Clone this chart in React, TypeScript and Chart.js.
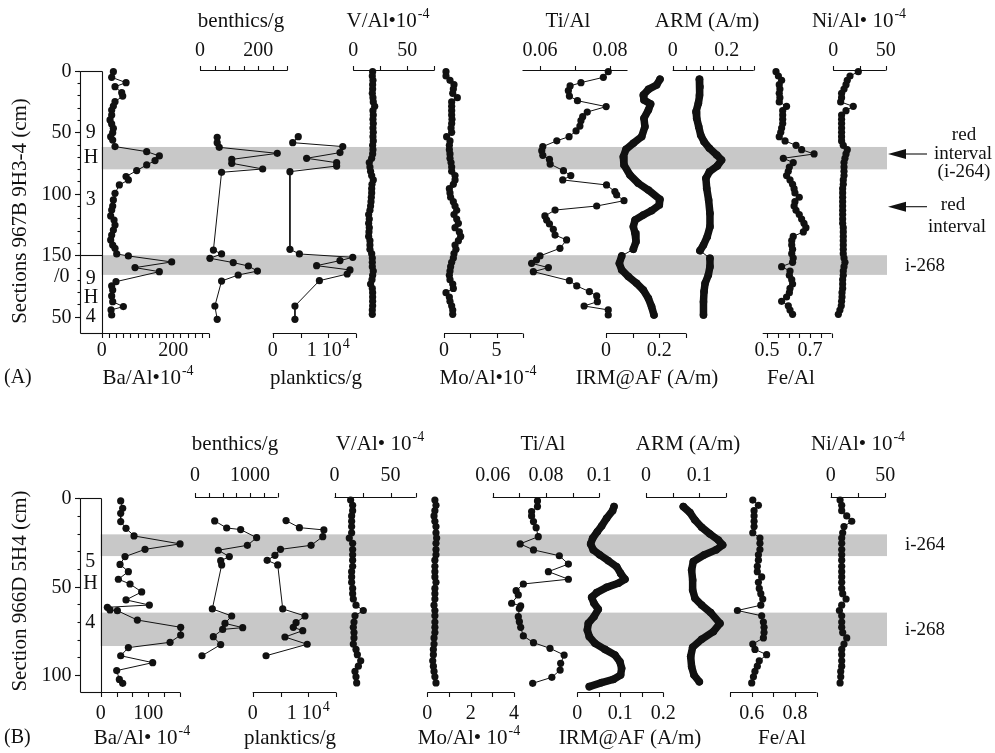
import React, { useEffect, useRef } from 'react';
import { Chart, registerables } from 'chart.js';
Chart.register(...registerables);

const W = 995;
const H = 753;
const SERIF = '"Liberation Serif", "Times New Roman", Times, serif';
const INK = '#111';
const BAND = '#c8c8c8';

// ================= Panel A : Sections 967B 9H3-4 (depth, cm) =================
const bandsA = [[62, 80.2], [150, 166]];

const baDepthA = [0.8, 5.4, 9.7, 13, 17.9, 20.6, 25.2, 28.7, 32, 36, 40, 43.3, 46.8, 50.4, 53.6, 56.4, 61.7, 65.8, 69.3, 73.1, 76.6, 81.2, 86.1, 88.8, 92.9, 99.7, 105.1, 110, 113.3, 118.1, 121.4, 125.5, 129.5, 133.6, 137.6, 141.7, 144.4, 149, 150.6, 155.5, 160.1, 163.4, 171.5, 175, 178.3, 183.1, 187.8, 191.8, 194.5, 198.6];
const baA = [32.6, 27.9, 68, 37.2, 55.9, 58.7, 37.2, 32.6, 27.9, 27.9, 23.3, 27.9, 32.6, 30.7, 25.1, 30.7, 37.2, 125.7, 161, 149, 125.7, 97.8, 68, 74.5, 49.3, 37.2, 32.6, 30.7, 27.9, 25.1, 34.5, 37.2, 32.6, 27.9, 25.1, 30.7, 37.2, 41.9, 74.5, 195.5, 93.1, 161, 40, 27.9, 30.7, 27.9, 30.7, 60.5, 26.1, 27.9];

const benDepthA = [54.2, 58.5, 62.3, 67.2, 72.1, 75.3, 79.9, 82.6, 145.8, 149, 152.5, 156, 158.8, 162.9, 166.1, 171, 191.3, 202.1];
const benA = [59, 59, 66, 265, 109, 109, 215, 74, 46, 74, 34, 114, 166, 197, 131, 74, 51, 59];

const plkDepthA = [53.6, 58.5, 61.7, 66.6, 71.2, 74.8, 77.5, 82.1, 145.2, 149, 151.7, 154.4, 158.5, 162, 165.3, 170.7, 191.3, 202.1];
const plkA = [4600, 3600, 12600, 12100, 6100, 11500, 11500, 3100, 3100, 4800, 14400, 12100, 7900, 13900, 13400, 8400, 4000, 4000];

const geoDepthA = [0.8, 4.3, 7.8, 11.4, 14.9, 18.4, 21.9, 25.4, 29, 32.5, 36, 39.5, 43, 46.6, 50.1, 53.6, 57.1, 60.7, 64.2, 67.7, 71.2, 74.7, 78.3, 81.8, 85.3, 88.8, 92.4, 95.9, 99.4, 102.9, 106.5, 110, 113.5, 117, 120.6, 124.1, 127.6, 131.1, 134.7, 138.2, 141.7, 145.2, 148.8, 152.3, 155.8, 159.3, 162.9, 166.4, 169.9, 173.4, 177, 180.5, 184, 187.5, 191.1, 194.6, 198.1];
const vA = [17.9, 17.6, 18.2, 17.9, 17.9, 17.6, 18.2, 18.5, 19.8, 18.2, 18.5, 18.2, 18.5, 18.2, 18.5, 18.2, 18.5, 17.9, 18.2, 17.9, 17, 14.8, 15.4, 16, 17, 18.5, 17.3, 17, 17, 16.7, 16.4, 16, 15.4, 14.2, 14.8, 14.2, 14.8, 14.5, 14.2, 15.4, 15.4, 15.4, 17, 17.6, 17.6, 17.6, 18.5, 17.9, 17.3, 16, 17.6, 17.9, 17.9, 17.9, 17.9, 17.6, 17.6];
const moA = [0.19, 0.19, 0.57, 0.95, 0.89, 0.83, 1.27, 0.73, 0.73, 0.73, 0.73, 0.76, 0.73, 0.67, 0.73, 0.25, 0.57, 0.51, 0.51, 0.57, 0.57, 0.67, 0.73, 0.73, 1.05, 1.05, 0.89, 0.51, 0.57, 0.63, 0.89, 1.05, 1.21, 0.95, 1.21, 1.37, 1.05, 1.46, 1.59, 1.37, 1.05, 1.14, 0.95, 0.89, 0.73, 0.63, 0.57, 0.51, 0.57, 0.83, 0.89, 0.19, 0.51, 0.57, 0.73, 0.83, 0.83];
const feA = [0.542, 0.553, 0.568, 0.557, 0.56, 0.557, 0.56, 0.557, 0.591, 0.573, 0.573, 0.573, 0.573, 0.568, 0.564, 0.557, 0.584, 0.635, 0.661, 0.719, 0.576, 0.622, 0.604, 0.599, 0.591, 0.607, 0.619, 0.626, 0.63, 0.65, 0.63, 0.626, 0.635, 0.65, 0.661, 0.672, 0.681, 0.669, 0.622, 0.615, 0.615, 0.619, 0.615, 0.622, 0.619, 0.568, 0.607, 0.604, 0.615, 0.619, 0.607, 0.604, 0.591, 0.568, 0.599, 0.607, 0.619];
const niA = [23.8, 15.9, 13.3, 12.1, 10.2, 7.9, 7.9, 7, 19, 12.1, 7.9, 7.9, 7.9, 7.9, 7.9, 7.9, 7.9, 9.5, 13.3, 12.1, 11.1, 10.2, 10.2, 10.2, 10.2, 9.5, 9.5, 8.9, 8.9, 8.9, 8.9, 8.9, 8.9, 8.9, 8.9, 8.9, 9.5, 9.5, 9.5, 9.5, 9.5, 9.5, 9.5, 10.2, 11.1, 10.2, 9.5, 9.5, 8.9, 8.9, 8.9, 8.3, 8.3, 7.9, 7.6, 6.3, 4.8];

const tiDepthA = [0.8, 5.4, 9.7, 12.4, 16.2, 20.6, 24.4, 29.2, 33.6, 37.4, 40.6, 45, 49, 53.6, 57, 61.7, 65, 68.8, 72.1, 75.9, 81.3, 85.3, 88.8, 92.9, 98.3, 101, 105.7, 110, 113.3, 118.1, 121.4, 124.6, 129, 133.6, 137.6, 144.4, 150.6, 153.9, 156.6, 160.1, 163.4, 170.7, 175, 179.6, 183.1, 187.8, 191.3, 194.5, 198.6];
const tiA = [0.0795, 0.0781, 0.0717, 0.0686, 0.0681, 0.0684, 0.0707, 0.0789, 0.0735, 0.0722, 0.0717, 0.0714, 0.0703, 0.0683, 0.0648, 0.0608, 0.0605, 0.0608, 0.0627, 0.0629, 0.0667, 0.0688, 0.0665, 0.079, 0.0814, 0.0819, 0.084, 0.0762, 0.0643, 0.0614, 0.0619, 0.0627, 0.0638, 0.0643, 0.0676, 0.0657, 0.06, 0.059, 0.0576, 0.0624, 0.0581, 0.0684, 0.0705, 0.0741, 0.0762, 0.0764, 0.0726, 0.0795, 0.0795];

const irmDepthA = [7, 11.6, 15.2, 19.8, 23.8, 27.1, 32, 38.7, 45.5, 53.6, 59, 63.9, 69.9, 76.6, 84.8, 91.5, 97, 104.6, 109.2, 113.8, 117.3, 121.4, 126.8, 132.2, 139, 145.2, 150.6, 156.6, 162, 167.4, 172.9, 178.3, 185.1, 191.8, 198.6];
const irmA = [0.2025, 0.19, 0.159, 0.14, 0.1425, 0.1675, 0.159, 0.1425, 0.146, 0.134, 0.1025, 0.075, 0.065, 0.0675, 0.09, 0.121, 0.159, 0.2025, 0.2, 0.171, 0.14, 0.109, 0.1025, 0.109, 0.1125, 0.1025, 0.059, 0.05, 0.059, 0.084, 0.115, 0.14, 0.159, 0.171, 0.18];
const irmBreakA = 25;

const armDepthA = [7, 13, 19.8, 26.5, 33.3, 38.7, 45.5, 52.3, 57.7, 63.1, 68.5, 72.6, 77.5, 82.1, 87.5, 95.6, 105.1, 115.9, 126.8, 134.9, 141.7, 146.3, 152.5, 159.3, 166.1, 172.9, 179.6, 187.8, 198.6];
const armA = [0.0988, 0.101, 0.0988, 0.095, 0.0864, 0.0889, 0.0963, 0.1037, 0.116, 0.136, 0.163, 0.181, 0.165, 0.136, 0.123, 0.126, 0.133, 0.138, 0.138, 0.128, 0.114, 0.101, 0.138, 0.138, 0.132, 0.12, 0.116, 0.114, 0.114];
const armBreakA = 21;

// ================= Panel B : Section 966D 5H4 (depth, cm) =================
const bandsB = [[20.4, 32.7], [64.7, 83.6]];

const baDepthB = [1.5, 5.7, 8.5, 13.2, 17, 21.3, 25.8, 28.9, 33, 37.4, 41.5, 45.8, 48.5, 53, 57.5, 60.4, 61.7, 63.2, 63.6, 68.9, 73, 77.4, 81.5, 84.5, 89.1, 93, 97.5, 102.5, 104.7];
const baB = [42, 46.2, 42, 42, 53.2, 70, 166.7, 93.1, 51.1, 40.6, 58.1, 37.1, 61.6, 86.1, 53.2, 102.2, 14, 19.6, 35, 77, 168, 168, 145.7, 58.1, 42, 109.2, 33.6, 39.2, 46.2];

const benDepthB = [12.8, 16.8, 17.7, 22.3, 26.6, 29.4, 33, 35.3, 37.7, 62.6, 66.6, 70.8, 73.2, 74.2, 78.3, 82.8, 89.1];
const benB = [358, 576, 830, 1121, 952, 424, 624, 467, 485, 315, 667, 545, 867, 503, 333, 467, 127];

const plkDepthB = [12.6, 16.6, 17.9, 21.7, 26.6, 28.9, 32.3, 35.1, 37.7, 62.6, 66.6, 70.4, 73, 74.9, 78.5, 82.6, 89.1];
const plkB = [6000, 8400, 12800, 12600, 10500, 5000, 4000, 2600, 4500, 5400, 9400, 7800, 7300, 9000, 5800, 9800, 2400];

const geoDepthB = [1, 4, 7, 10, 13, 16, 19.5, 22.5, 25.5, 29, 32, 35, 38.5, 41.5, 44.5, 47.5, 51, 54, 57, 60.5, 63.5, 66.5, 70, 73, 76, 79, 82.5, 85.5, 88.5, 92, 95, 98, 101, 104.5];
const vB = [14.4, 16.2, 16.2, 15.3, 15.3, 15.3, 15.3, 13.2, 16.2, 16.2, 16.2, 16.2, 16.2, 15.3, 15.3, 15.3, 16.2, 16.2, 16.8, 19.2, 25.7, 18.3, 17.4, 16.8, 17.4, 17.4, 16.8, 19.2, 20.4, 23.4, 21.3, 18.3, 19.2, 19.8];
const moB = [0.35, 0.4, 0.35, 0.31, 0.35, 0.4, 0.4, 0.43, 0.4, 0.4, 0.4, 0.35, 0.35, 0.35, 0.35, 0.4, 0.35, 0.35, 0.35, 0.31, 0.35, 0.35, 0.35, 0.35, 0.35, 0.31, 0.31, 0.28, 0.28, 0.25, 0.28, 0.31, 0.35, 0.4];
const feB = [0.605, 0.631, 0.611, 0.611, 0.611, 0.611, 0.605, 0.638, 0.638, 0.638, 0.631, 0.631, 0.626, 0.626, 0.646, 0.631, 0.635, 0.642, 0.651, 0.642, 0.534, 0.646, 0.654, 0.657, 0.657, 0.654, 0.605, 0.615, 0.669, 0.635, 0.626, 0.615, 0.608, 0.6];
const niB = [8.6, 10.1, 10.1, 14.7, 19.3, 12.2, 11, 10.1, 10.1, 10.1, 10.1, 10.1, 10.1, 10.1, 10.1, 10.1, 10.1, 11, 14.1, 10.1, 8, 10.1, 10.1, 10.1, 11, 14.7, 12.2, 10.1, 10.1, 10.1, 10.1, 9.2, 9.2, 8.6];

const tiDepthB = [1.5, 4.7, 7.5, 10, 13.2, 16.6, 21.7, 25.8, 29.2, 32.5, 37.2, 41.5, 45.8, 48.5, 52.3, 54.7, 59.4, 60.9, 62.3, 67, 69.8, 73, 77.9, 81.7, 84.9, 88.7, 93.4, 97.2, 101.3, 104.7];
const tiB = [0.0768, 0.0768, 0.0746, 0.0746, 0.0753, 0.0763, 0.0771, 0.0703, 0.0753, 0.085, 0.0884, 0.0809, 0.0884, 0.0715, 0.0688, 0.0696, 0.0671, 0.0705, 0.07, 0.0696, 0.07, 0.0705, 0.0715, 0.0753, 0.0815, 0.0868, 0.0855, 0.0853, 0.0822, 0.075];

const irmDepthB = [4.7, 7, 11.3, 15.7, 18.9, 22.6, 25.8, 29.2, 32.1, 35.3, 38.7, 42.5, 45.8, 48.1, 50.4, 53.4, 56, 59.4, 62.8, 67, 70.8, 74.5, 78.3, 82.1, 85.5, 88.7, 92.5, 96.2, 100, 102.5, 104.3, 106.6];
const irmB = [0.0853, 0.0822, 0.0682, 0.0566, 0.0465, 0.0357, 0.031, 0.0372, 0.0527, 0.0721, 0.0915, 0.1008, 0.1109, 0.0953, 0.0682, 0.045, 0.0333, 0.0388, 0.0488, 0.0388, 0.0256, 0.0233, 0.0279, 0.0411, 0.0643, 0.0876, 0.0992, 0.1031, 0.1008, 0.0837, 0.0566, 0.0279];

const armDepthB = [4.7, 8.1, 12.3, 16.4, 20.2, 23.6, 26.4, 29.2, 32.1, 35.8, 40.6, 46.2, 51.9, 56.6, 60.4, 64.7, 70.8, 75.5, 79.8, 84.3, 89.6, 95.3, 100, 103.8];
const armB = [0.07, 0.0825, 0.0919, 0.1044, 0.12, 0.1356, 0.1438, 0.1313, 0.1088, 0.0888, 0.0856, 0.0875, 0.0875, 0.0919, 0.1044, 0.1213, 0.1388, 0.1263, 0.1044, 0.0875, 0.0838, 0.0856, 0.09, 0.1];

// ================= tick marks and tick labels =================
const baTicksA = [0, 20, 40, 60, 80, 100, 120, 140, 160, 180, 200, 220, 240, 260, 280, 300];
const benTicksA = [0, 50, 100, 150, 200, 250, 300];
const plkTicks = [0, 5000, 10000, 15000];
const vTicksA = [0, 25, 50, 75];
const vTicksB = [0, 25, 50, 72.5];
const moTicksA = [0, 2.5, 5, 7.5];
const tiTicksA = [0.06, 0.07, 0.08];
const irmTicksA = [0, 0.1, 0.2, 0.3];
const armTicksA = [0, 0.05, 0.1, 0.15, 0.2, 0.25, 0.3];
const feTicksA = [0.5, 0.55, 0.6, 0.65, 0.7, 0.75, 0.8];
const niTicks = [0, 25, 50];
const baTicksB = [0, 33.3, 66.7, 100, 133.3, 166.7];
const benTicksB = [0, 250, 500, 750, 1000, 1250, 1500];
const moTicksB = [0, 1, 2, 3, 4];
const tiTicksB = [0.06, 0.07, 0.08, 0.09, 0.1];
const irmTicksB = [0, 0.05, 0.1, 0.15, 0.2];
const armTicksB = [0, 0.05, 0.1, 0.15];
const feTicksB = [0.5, 0.6, 0.7, 0.8, 0.9];

const baLabelsA: [number, string][] = [[0, '0'], [200, '200']];
const benLabelsA: [number, string][] = [[0, '0'], [200, '200']];
const plkLabels: [number, string][] = [[0, '0'], [10000, '1 10^4']];
const vLabels: [number, string][] = [[0, '0'], [50, '50']];
const moLabelsA: [number, string][] = [[0, '0'], [5, '5']];
const tiLabelsA: [number, string][] = [[0.06, '0.06'], [0.08, '0.08']];
const irmLabelsA: [number, string][] = [[0, '0'], [0.2, '0.2']];
const armLabelsA: [number, string][] = [[0, '0'], [0.2, '0.2']];
const feLabelsA: [number, string][] = [[0.5, '0.5'], [0.7, '0.7']];
const niLabels: [number, string][] = [[0, '0'], [50, '50']];
const baLabelsB: [number, string][] = [[0, '0'], [100, '100']];
const benLabelsB: [number, string][] = [[0, '0'], [1000, '1000']];
const moLabelsB: [number, string][] = [[0, '0'], [2, '2'], [4, '4']];
const tiLabelsB: [number, string][] = [[0.06, '0.06'], [0.08, '0.08'], [0.1, '0.1']];
const irmLabelsB: [number, string][] = [[0, '0'], [0.1, '0.1'], [0.2, '0.2']];
const armLabelsB: [number, string][] = [[0, '0'], [0.1, '0.1']];
const feLabelsB: [number, string][] = [[0.6, '0.6'], [0.8, '0.8']];

const depthMajorsA = [0, 50, 100, 150, 200];
const depthMajorLabelsA = ['0', '50', '100', '150', '50'];
const depthMinorsA = [0, 10, 20, 30, 40, 50, 60, 70, 80, 90, 100, 110, 120, 130, 140, 150, 160, 170, 180, 190, 200];
const depthMajorsB = [0, 50, 100];
const depthMajorLabelsB = ['0', '50', '100'];
const depthMinorsB = [0, 10, 20, 30, 40, 50, 60, 70, 80, 90, 100];

const boxLabelsA: [string, number][] = [['9', 50.7], ['H', 71], ['3', 105], ['9', 169.5], ['H', 184.8], ['4', 200.2]];
const boxLabelsB: [string, number][] = [['5', 35.9], ['H', 48.1], ['4', 70.7]];

// ================= layout (pixel anchors for each axis) =================
const AXES = [
  { id: 'xBaA', panel: 0, side: 'bottom', v0: 0, p0: 101.7, v1: 200, p1: 173.3, lo: 0, hi: 300, ticks: baTicksA, labels: baLabelsA, title: 'Ba/Al\u202210^-4', titleX: 148 },
  { id: 'xBenA', panel: 0, side: 'top', v0: 0, p0: 200, v1: 200, p1: 258.3, lo: 0, hi: 300, ticks: benTicksA, labels: benLabelsA, title: 'benthics/g', titleX: 241 },
  { id: 'xPlkA', panel: 0, side: 'bottom', v0: 0, p0: 272.7, v1: 10000, p1: 328.3, lo: 0, hi: 15000, ticks: plkTicks, labels: plkLabels, title: 'planktics/g', titleX: 316 },
  { id: 'xVA', panel: 0, side: 'top', v0: 0, p0: 353.3, v1: 50, p1: 407.3, lo: 0, hi: 75, ticks: vTicksA, labels: vLabels, title: 'V/Al\u202210^-4', titleX: 388 },
  { id: 'xMoA', panel: 0, side: 'bottom', v0: 0, p0: 444, v1: 5, p1: 496.5, lo: 0, hi: 7.5, ticks: moTicksA, labels: moLabelsA, title: 'Mo/Al\u202210^-4', titleX: 488 },
  { id: 'xTiA', panel: 0, side: 'top', v0: 0.06, p0: 540, v1: 0.08, p1: 610, lo: 0.055, hi: 0.085, ticks: tiTicksA, labels: tiLabelsA, title: 'Ti/Al', titleX: 568 },
  { id: 'xIrmA', panel: 0, side: 'bottom', v0: 0, p0: 606, v1: 0.2, p1: 659.3, lo: 0, hi: 0.3, ticks: irmTicksA, labels: irmLabelsA, title: 'IRM@AF (A/m)', titleX: 647 },
  { id: 'xArmA', panel: 0, side: 'top', v0: 0, p0: 672.7, v1: 0.2, p1: 726.7, lo: 0, hi: 0.3, ticks: armTicksA, labels: armLabelsA, title: 'ARM (A/m)', titleX: 707 },
  { id: 'xFeA', panel: 0, side: 'bottom', v0: 0.5, p0: 767, v1: 0.7, p1: 810, lo: 0.48, hi: 0.8, ticks: feTicksA, labels: feLabelsA, title: 'Fe/Al', titleX: 791 },
  { id: 'xNiA', panel: 0, side: 'top', v0: 0, p0: 833.3, v1: 50, p1: 885.8, lo: 0, hi: 50, ticks: niTicks, labels: niLabels, title: 'Ni/Al\u2022 10^-4', titleX: 859 },
  { id: 'xBaB', panel: 1, side: 'bottom', v0: 0, p0: 100.7, v1: 100, p1: 148.3, lo: 0, hi: 166.7, ticks: baTicksB, labels: baLabelsB, title: 'Ba/Al\u2022 10^-4', titleX: 142 },
  { id: 'xBenB', panel: 1, side: 'top', v0: 0, p0: 195, v1: 1000, p1: 250, lo: 0, hi: 1500, ticks: benTicksB, labels: benLabelsB, title: 'benthics/g', titleX: 235 },
  { id: 'xPlkB', panel: 1, side: 'bottom', v0: 0, p0: 252.7, v1: 10000, p1: 308.3, lo: 0, hi: 15000, ticks: plkTicks, labels: plkLabels, title: 'planktics/g', titleX: 290 },
  { id: 'xVB', panel: 1, side: 'top', v0: 0, p0: 334.5, v1: 50, p1: 390.5, lo: 0, hi: 72.5, ticks: vTicksB, labels: vLabels, title: 'V/Al\u2022 10^-4', titleX: 380 },
  { id: 'xMoB', panel: 1, side: 'bottom', v0: 0, p0: 427.3, v1: 2, p1: 470.7, lo: 0, hi: 4, ticks: moTicksB, labels: moLabelsB, title: 'Mo/Al\u2022 10^-4', titleX: 469 },
  { id: 'xTiB', panel: 1, side: 'top', v0: 0.06, p0: 492.7, v1: 0.1, p1: 599.3, lo: 0.06, hi: 0.1, ticks: tiTicksB, labels: tiLabelsB, title: 'Ti/Al', titleX: 543 },
  { id: 'xIrmB', panel: 1, side: 'bottom', v0: 0, p0: 577.3, v1: 0.1, p1: 620.3, lo: 0, hi: 0.2, ticks: irmTicksB, labels: irmLabelsB, title: 'IRM@AF (A/m)', titleX: 630 },
  { id: 'xArmB', panel: 1, side: 'top', v0: 0, p0: 646, v1: 0.1, p1: 699.3, lo: 0, hi: 0.15, ticks: armTicksB, labels: armLabelsB, title: 'ARM (A/m)', titleX: 688 },
  { id: 'xFeB', panel: 1, side: 'bottom', v0: 0.6, p0: 751.7, v1: 0.8, p1: 795, lo: 0.5, hi: 0.9, ticks: feTicksB, labels: feLabelsB, title: 'Fe/Al', titleX: 782 },
  { id: 'xNiB', panel: 1, side: 'top', v0: 0, p0: 830.7, v1: 50, p1: 885.2, lo: 0, hi: 50, ticks: niTicks, labels: niLabels, title: 'Ni/Al\u2022 10^-4', titleX: 858 },
];

const PANELS = [
  {
    yId: 'yA', d0: 0, p0: 70.7, d1: 200, p1: 316.7,
    topY: 70, botY: 333, topLabY: 51, botLabY: 351, topTitY: 21, botTitY: 378,
    axisX: 80, boxR: 101.7, bandR: 887, dividers: [150], bands: bandsA,
    majors: depthMajorsA, majorLabels: depthMajorLabelsA, minors: depthMinorsA,
    extraLabels: [['/0', 167.5]] as [string, number][], boxLabels: boxLabelsA,
    title: 'Sections 967B 9H3-4 (cm)', titleY: 211, tag: '(A)', tagY: 378,
    notes: [['red', 964, 135, 'center'], ['interval', 963, 154, 'center'], ['(i-264)', 964, 172, 'center'], ['red', 953, 205, 'center'], ['interval', 957, 227, 'center'], ['i-268', 905, 266, 'left']] as [string, number, number, string][],
    arrows: [154, 206.7],
  },
  {
    yId: 'yB', d0: 0, p0: 498.3, d1: 100, p1: 675,
    topY: 496.7, botY: 692.3, topLabY: 476, botLabY: 714, topTitY: 444, botTitY: 738,
    axisX: 80, boxR: 100.7, bandR: 887, dividers: [] as number[], bands: bandsB,
    majors: depthMajorsB, majorLabels: depthMajorLabelsB, minors: depthMinorsB,
    extraLabels: [] as [string, number][], boxLabels: boxLabelsB,
    title: 'Section 966D 5H4 (cm)', titleY: 591, tag: '(B)', tagY: 738,
    notes: [['i-264', 905, 545, 'left'], ['i-268', 905, 630, 'left']] as [string, number, number, string][],
    arrows: [] as number[],
  },
];

type S = { xs: number[]; ds: number[]; xId: string; yId: string; thick?: boolean; brk?: number };
const SERIES: S[] = [
  { xs: baA, ds: baDepthA, xId: 'xBaA', yId: 'yA' },
  { xs: benA, ds: benDepthA, xId: 'xBenA', yId: 'yA' },
  { xs: plkA, ds: plkDepthA, xId: 'xPlkA', yId: 'yA' },
  { xs: vA, ds: geoDepthA, xId: 'xVA', yId: 'yA' },
  { xs: moA, ds: geoDepthA, xId: 'xMoA', yId: 'yA' },
  { xs: tiA, ds: tiDepthA, xId: 'xTiA', yId: 'yA' },
  { xs: irmA, ds: irmDepthA, xId: 'xIrmA', yId: 'yA', thick: true, brk: irmBreakA },
  { xs: armA, ds: armDepthA, xId: 'xArmA', yId: 'yA', thick: true, brk: armBreakA },
  { xs: feA, ds: geoDepthA, xId: 'xFeA', yId: 'yA' },
  { xs: niA, ds: geoDepthA, xId: 'xNiA', yId: 'yA' },
  { xs: baB, ds: baDepthB, xId: 'xBaB', yId: 'yB' },
  { xs: benB, ds: benDepthB, xId: 'xBenB', yId: 'yB' },
  { xs: plkB, ds: plkDepthB, xId: 'xPlkB', yId: 'yB' },
  { xs: vB, ds: geoDepthB, xId: 'xVB', yId: 'yB' },
  { xs: moB, ds: geoDepthB, xId: 'xMoB', yId: 'yB' },
  { xs: tiB, ds: tiDepthB, xId: 'xTiB', yId: 'yB' },
  { xs: irmB, ds: irmDepthB, xId: 'xIrmB', yId: 'yB', thick: true },
  { xs: armB, ds: armDepthB, xId: 'xArmB', yId: 'yB', thick: true },
  { xs: feB, ds: geoDepthB, xId: 'xFeB', yId: 'yB' },
  { xs: niB, ds: geoDepthB, xId: 'xNiB', yId: 'yB' },
];

function drawRich(ctx: CanvasRenderingContext2D, text: string, x: number, y: number, size: number, align = 'center') {
  const parts = text.split('^');
  const main = parts[0];
  const sup = parts[1] || '';
  ctx.font = `${size}px ${SERIF}`;
  const w1 = ctx.measureText(main).width;
  const ss = Math.round(size * 0.68);
  ctx.font = `${ss}px ${SERIF}`;
  const w2 = sup ? ctx.measureText(sup).width + 1 : 0;
  const tw = w1 + w2;
  const x0 = align === 'center' ? x - tw / 2 : align === 'right' ? x - tw : x;
  ctx.textAlign = 'left';
  ctx.textBaseline = 'middle';
  ctx.fillStyle = INK;
  ctx.font = `${size}px ${SERIF}`;
  ctx.fillText(main, x0, y);
  if (sup) {
    ctx.font = `${ss}px ${SERIF}`;
    ctx.fillText(sup, x0 + w1 + 1, y - size * 0.34);
  }
}

function line(ctx: CanvasRenderingContext2D, x1: number, y1: number, x2: number, y2: number) {
  ctx.beginPath();
  ctx.moveTo(x1, y1);
  ctx.lineTo(x2, y2);
  ctx.stroke();
}

const figPlugin = {
  id: 'figure',
  beforeDatasetsDraw(chart: any) {
    const ctx = chart.ctx;
    ctx.save();
    ctx.fillStyle = BAND;
    for (const P of PANELS) {
      const ys = chart.scales[P.yId];
      for (const [d0, d1] of P.bands) {
        const y0 = ys.getPixelForValue(d0);
        const y1 = ys.getPixelForValue(d1);
        ctx.fillRect(P.boxR, y0, P.bandR - P.boxR, y1 - y0);
      }
    }
    ctx.restore();
  },
  afterDatasetsDraw(chart: any) {
    const ctx: CanvasRenderingContext2D = chart.ctx;
    ctx.save();
    ctx.strokeStyle = INK;
    ctx.lineWidth = 1.1;
    for (const a of AXES) {
      const P = PANELS[a.panel];
      const s = chart.scales[a.id];
      const y = Math.round(a.side === 'top' ? P.topY : P.botY) + 0.5;
      const dir = a.side === 'top' ? -1 : 1;
      line(ctx, s.getPixelForValue(a.lo), y, s.getPixelForValue(a.hi), y);
      for (const t of a.ticks) {
        const x = Math.round(s.getPixelForValue(t)) + 0.5;
        line(ctx, x, y, x, y + dir * 4.5);
      }
      const ly = a.side === 'top' ? P.topLabY : P.botLabY;
      for (const [v, txt] of a.labels) drawRich(ctx, txt, s.getPixelForValue(v), ly, 20);
      drawRich(ctx, a.title, a.titleX, a.side === 'top' ? P.topTitY : P.botTitY, 21);
    }
    for (const P of PANELS) {
      const ys = chart.scales[P.yId];
      const top = Math.round(ys.getPixelForValue(0)) + 0.5;
      const bot = Math.round(P.botY) + 0.5;
      const ax = Math.round(P.axisX) + 0.5;
      const br = Math.round(P.boxR) + 0.5;
      line(ctx, ax, top, ax, bot);
      line(ctx, br, top, br, bot);
      line(ctx, ax, top, br, top);
      line(ctx, ax, bot, br, bot);
      for (const d of P.dividers) {
        const y = Math.round(ys.getPixelForValue(d)) + 0.5;
        line(ctx, ax, y, br, y);
      }
      for (const d of P.minors) {
        const y = Math.round(ys.getPixelForValue(d)) + 0.5;
        line(ctx, ax, y, ax - 3, y);
      }
      P.majors.forEach((d, i) => {
        const y = Math.round(ys.getPixelForValue(d)) + 0.5;
        line(ctx, ax, y, ax - 5.5, y);
        drawRich(ctx, P.majorLabels[i], ax - 9, y, 20, 'right');
      });
      for (const [t, d] of P.extraLabels) drawRich(ctx, t, ax - 11, ys.getPixelForValue(d), 20, 'right');
      for (const [t, d] of P.boxLabels) drawRich(ctx, t, (P.axisX + P.boxR) / 2, ys.getPixelForValue(d), 20);
      ctx.save();
      ctx.translate(20, P.titleY);
      ctx.rotate(-Math.PI / 2);
      drawRich(ctx, P.title, 0, 0, 21);
      ctx.restore();
      drawRich(ctx, P.tag, 4, P.tagY, 20, 'left');
      for (const [t, x, y, al] of P.notes) drawRich(ctx, t, x, y, 19, al);
      for (const y of P.arrows) {
        line(ctx, 896, y, 927, y);
        ctx.fillStyle = INK;
        ctx.beginPath();
        ctx.moveTo(888, y);
        ctx.lineTo(906, y - 5);
        ctx.lineTo(906, y + 5);
        ctx.closePath();
        ctx.fill();
      }
    }
    ctx.restore();
  },
};

export default function App() {
  const ref = useRef<HTMLCanvasElement>(null);
  useEffect(() => {
    const canvas = ref.current;
    if (!canvas) return;
    const scales: any = {
      x: { display: false },
      y: { display: false },
    };
    for (const a of AXES) {
      const k = (a.p1 - a.p0) / (a.v1 - a.v0);
      const min = a.v0 - a.p0 / k;
      scales[a.id] = { type: 'linear', axis: 'x', display: false, bounds: 'data', min, max: min + W / k };
    }
    for (const P of PANELS) {
      const k = (P.p1 - P.p0) / (P.d1 - P.d0);
      const min = P.d0 - P.p0 / k;
      scales[P.yId] = { type: 'linear', axis: 'y', display: false, reverse: true, bounds: 'data', min, max: min + H / k };
    }
    const datasets = SERIES.map((s) => {
      const base: any = {
        data: s.xs.map((v, i) => ({ x: v, y: s.ds[i] })),
        xAxisID: s.xId,
        yAxisID: s.yId,
        showLine: true,
        borderColor: INK,
        backgroundColor: INK,
        pointBorderWidth: 0,
        pointHoverRadius: 0,
      };
      if (s.thick) {
        base.borderWidth = 7.5;
        base.pointRadius = 3.8;
        base.borderJoinStyle = 'round';
        base.borderCapStyle = 'round';
        if (s.brk !== undefined) {
          const brk = s.brk;
          base.segment = { borderWidth: (c: any) => (c.p0DataIndex === brk ? 1 : 7.5) };
        }
      } else {
        base.borderWidth = 1;
        base.pointRadius = 3.6;
      }
      return base;
    });
    const chart = new Chart(canvas, {
      type: 'scatter',
      data: { datasets },
      options: {
        responsive: false,
        maintainAspectRatio: false,
        animation: false,
        events: [],
        layout: { padding: 0, autoPadding: false },
        plugins: { legend: { display: false }, tooltip: { enabled: false } },
        scales,
      } as any,
      plugins: [figPlugin as any],
    });
    return () => chart.destroy();
  }, []);
  return (
    <div style={{ position: 'absolute', left: 0, top: 0, width: W, height: H, background: '#fff' }}>
      <canvas ref={ref} width={W} height={H} style={{ display: 'block', width: W, height: H }} />
    </div>
  );
}
